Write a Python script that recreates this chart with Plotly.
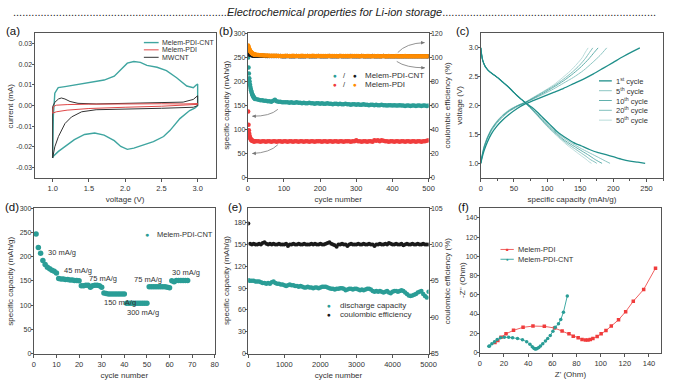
import plotly.graph_objects as go

W, H = 674, 384
FONT = "Arial, 'Liberation Sans', sans-serif"

# ---------------- (a) cyclic voltammetry ----------------
cv_cnt_v = [1.0, 1.01, 1.03, 1.077, 1.17, 1.35, 1.53, 1.71, 1.85, 1.94, 2.03, 2.12, 2.21, 2.30, 2.44, 2.57, 2.71, 2.85, 2.94, 2.98, 3.0,
            3.0, 2.96, 2.89, 2.755, 2.62, 2.53, 2.39, 2.26, 2.12, 2.03, 1.94, 1.85, 1.71, 1.58, 1.44, 1.30, 1.17, 1.08, 1.01, 1.0]
cv_cnt_i = [-0.0254, -0.005, 0.006, 0.0087, 0.0092, 0.0103, 0.0116, 0.0124, 0.0143, 0.0175, 0.0206, 0.0214, 0.0210, 0.0195, 0.0186, 0.0170, 0.0135, 0.0095, 0.0087, 0.0100, 0.0105,
            0.0, -0.0012, -0.0024, -0.0063, -0.012, -0.015, -0.0175, -0.019, -0.0206, -0.0212, -0.0198, -0.017, -0.0143, -0.0133, -0.0140, -0.0165, -0.0198, -0.0222, -0.0245, -0.0254]
cv_mw_v = [1.0, 1.0, 1.03, 1.08, 1.12, 1.17, 1.24, 1.35, 1.6, 2.0, 2.5, 2.8, 2.94, 2.98, 3.0,
           3.0, 2.94, 2.5, 2.0, 1.6, 1.4, 1.26, 1.17, 1.08, 1.03, 1.01, 1.0]
cv_mw_i = [-0.0254, -0.0005, 0.0016, 0.0032, 0.0037, 0.0032, 0.002, 0.0011, 0.0008, 0.001, 0.0013, 0.0017, 0.003, 0.0043, 0.0048,
           0.0, -0.0008, -0.0013, -0.0016, -0.002, -0.003, -0.0055, -0.0087, -0.015, -0.02, -0.023, -0.0254]
cv_pdi_v = [1.0, 1.01, 1.05, 1.2, 1.5, 2.0, 2.5, 2.8, 3.0,
            3.0, 2.8, 2.5, 2.0, 1.5, 1.2, 1.05, 1.0]
cv_pdi_i = [-0.0037, -0.0005, 0.0002, 0.0005, 0.0007, 0.0009, 0.0009, 0.0008, 0.001,
            0.0006, 0.0002, -0.0003, -0.0008, -0.0014, -0.0022, -0.003, -0.0037]
a_yticks = [-0.03, -0.02, -0.01, 0.0, 0.01, 0.02, 0.03]
a_yticktext = ["-0.03", "-0.02", "-0.01", "0.00", "0.01", "0.02", "0.03"]

# ---------------- (b) cycling at 30 mA/g ----------------
cyc_b = list(range(1, 21)) + list(range(25, 501, 5))
cap_cnt_b = [250, 229, 217, 207, 200, 194, 189, 185, 182, 179, 176, 174, 172, 171, 169, 168, 167, 166, 165, 164,
             163, 162, 161, 161, 160, 160, 159, 159, 158, 160, 162, 159, 158, 158, 157, 157,
             157, 157, 156, 157, 156, 156, 157, 156, 156, 155, 156, 155, 155, 156, 155, 155, 154, 155, 155, 154,
             155, 154, 154, 155, 154, 154, 153, 154, 154, 153, 154, 153, 153, 154, 153, 153, 152, 153, 153, 152,
             153, 152, 152, 153, 152, 152, 151, 152, 152, 151, 152, 151, 151, 152, 151, 151, 150, 151, 151, 150,
             151, 150, 150, 151, 150, 150, 149, 150, 150, 149, 150, 150, 149, 150, 150, 149, 150, 150, 149, 150]
cap_pdi_b = [138, 110, 99, 92, 87, 84, 82, 80, 79, 78, 78, 77, 77, 77, 76, 76, 76, 76, 76, 76,
             76, 76, 75, 76, 76, 75, 76, 76, 75, 76, 76, 75, 76, 76, 75, 76,
             76, 75, 76, 76, 75, 76, 76, 75, 76, 76, 75, 76, 76, 75, 76, 76, 75, 76, 76, 76,
             75, 76, 76, 75, 76, 76, 75, 76, 76, 75, 76, 76, 75, 76, 76, 76, 75, 76, 76, 78,
             76, 76, 75, 76, 76, 75, 76, 76, 75, 78, 77, 78, 76, 78, 77, 76, 76, 75, 76, 76,
             75, 76, 76, 75, 76, 76, 75, 76, 76, 75, 76, 76, 75, 76, 76, 75, 76, 76, 77, 78]
ce_cnt_b = [104.5, 104.0, 103.5, 103.1, 102.8, 102.6, 102.4, 102.3, 102.2, 102.1, 102.0, 101.9, 101.9, 101.8, 101.8, 101.7, 101.7, 101.6, 101.6, 101.6,
            101.5, 101.5, 101.4, 101.4, 101.4, 101.3, 101.3, 101.3, 101.3, 101.2, 101.2, 101.2, 101.2, 101.2, 101.1, 101.1,
            101.1, 101.2, 101.1, 101.1, 101.0, 101.1, 101.2, 101.1, 101.1, 101.0, 101.1, 101.1, 101.2, 101.1, 101.1, 101.0, 101.1, 101.1, 101.2, 101.1,
            101.1, 101.0, 101.1, 101.1, 101.2, 101.1, 101.1, 101.0, 101.1, 101.1, 101.2, 101.1, 101.1, 101.0, 101.1, 101.1, 101.2, 101.1, 101.1, 101.0,
            101.1, 101.1, 101.2, 101.1, 101.1, 101.0, 101.1, 101.1, 101.2, 101.1, 101.1, 101.0, 101.1, 101.1, 101.2, 101.1, 101.1, 101.0, 101.1, 101.1,
            101.0, 101.1, 101.1, 101.0, 101.1, 101.0, 101.1, 101.1, 101.0, 101.1, 101.0, 101.1, 101.1, 101.0, 101.1, 101.0, 101.1, 101.0, 101.0, 101.1]
ce_pdi_b = [110.0, 109.0, 108.0, 107.1, 106.4, 105.8, 105.3, 104.8, 104.4, 104.1, 103.8, 103.5, 103.3, 103.1, 102.9, 102.8, 102.7, 102.6, 102.5, 102.4,
            102.2, 102.0, 101.9, 101.8, 101.7, 101.6, 101.6, 101.5, 101.5, 101.4, 101.4, 101.4, 101.3, 101.3, 101.3, 101.3,
            101.4, 101.3, 101.2, 101.3, 101.4, 101.3, 101.2, 101.3, 101.3, 101.4, 101.2, 101.3, 101.3, 101.2, 101.3, 101.4, 101.3, 101.2, 101.3, 101.3,
            101.2, 101.3, 101.3, 101.2, 101.3, 101.2, 101.3, 101.3, 101.2, 101.1, 101.3, 101.2, 101.2, 101.3, 101.2, 101.2, 101.1, 101.2, 101.3, 101.2,
            101.2, 101.1, 101.2, 101.2, 101.1, 101.2, 101.2, 101.1, 101.0, 101.2, 101.1, 101.2, 101.1, 101.1, 101.2, 101.1, 101.1, 101.2, 101.1, 101.1,
            101.1, 101.2, 101.1, 101.0, 101.1, 101.1, 101.2, 101.1, 101.0, 101.1, 101.1, 101.0, 101.1, 101.1, 101.0, 101.1, 101.1, 101.0, 101.1, 101.0]

# ---------------- (c) charge / discharge profiles ----------------
c_cycles = ["1<sup>st</sup> cycle", "5<sup>th</sup> cycle", "10<sup>th</sup> cycle", "20<sup>th</sup> cycle", "50<sup>th</sup> cycle"]
chg_cap_1 = [0, 2, 5, 10, 16, 24, 33, 43, 55, 67, 80, 95, 110, 125, 140, 155, 170, 185, 200, 215, 228, 240]
chg_v_1 = [1.0, 1.1, 1.22, 1.37, 1.51, 1.64, 1.75, 1.85, 1.95, 2.03, 2.09, 2.16, 2.23, 2.3, 2.38, 2.46, 2.55, 2.65, 2.75, 2.85, 2.93, 3.0]
chg_cap_5 = [0, 2, 5, 10, 16, 24, 33, 43, 55, 67, 80, 95, 110, 125, 140, 155, 168, 180, 190]
chg_v_5 = [1.0, 1.12, 1.26, 1.42, 1.56, 1.69, 1.8, 1.9, 1.98, 2.05, 2.12, 2.2, 2.29, 2.39, 2.49, 2.61, 2.74, 2.87, 3.0]
chg_cap_10 = [0, 2, 5, 10, 16, 24, 33, 43, 55, 67, 80, 95, 110, 125, 140, 152, 163, 171, 177]
chg_v_10 = [1.0, 1.13, 1.28, 1.44, 1.58, 1.71, 1.82, 1.91, 1.99, 2.05, 2.13, 2.22, 2.32, 2.43, 2.56, 2.68, 2.81, 2.92, 3.0]
chg_cap_20 = [0, 2, 5, 10, 16, 24, 33, 43, 55, 67, 80, 95, 110, 125, 138, 149, 158, 164, 169]
chg_v_20 = [1.0, 1.14, 1.29, 1.45, 1.59, 1.72, 1.83, 1.92, 2.0, 2.06, 2.14, 2.24, 2.34, 2.46, 2.58, 2.7, 2.82, 2.92, 3.0]
chg_cap_50 = [0, 2, 5, 10, 16, 24, 33, 43, 55, 67, 80, 95, 110, 123, 135, 145, 153, 158, 162]
chg_v_50 = [1.0, 1.15, 1.3, 1.46, 1.6, 1.73, 1.84, 1.93, 2.0, 2.06, 2.15, 2.25, 2.36, 2.48, 2.6, 2.72, 2.83, 2.93, 3.0]
dis_cap_1 = [0, 1, 3, 7, 13, 20, 26, 33, 40, 48, 55, 62, 68, 77, 85, 93, 100, 108, 115, 122, 130, 140, 152, 164, 176, 189, 201, 213, 225, 237, 248]
dis_v_1 = [3.0, 2.9, 2.78, 2.67, 2.59, 2.53, 2.48, 2.41, 2.34, 2.25, 2.17, 2.1, 2.045, 1.97, 1.89, 1.8, 1.72, 1.63, 1.55, 1.49, 1.43, 1.36, 1.3, 1.24, 1.19, 1.15, 1.11, 1.07, 1.04, 1.02, 1.0]
dis_cap_5 = [0, 1, 3, 7, 13, 20, 26, 33, 40, 48, 55, 62, 68, 76, 84, 92, 100, 108, 116, 124, 133, 143, 154, 166, 178, 188, 195]
dis_v_5 = [3.0, 2.9, 2.78, 2.67, 2.59, 2.53, 2.48, 2.41, 2.34, 2.25, 2.17, 2.1, 2.04, 1.96, 1.87, 1.78, 1.69, 1.6, 1.52, 1.45, 1.38, 1.31, 1.24, 1.17, 1.1, 1.04, 1.0]
dis_cap_10 = [0, 1, 3, 7, 13, 20, 26, 33, 40, 48, 55, 62, 68, 76, 84, 92, 100, 108, 116, 124, 133, 143, 153, 163, 172, 178, 183]
dis_v_10 = [3.0, 2.9, 2.78, 2.67, 2.59, 2.53, 2.48, 2.41, 2.34, 2.25, 2.17, 2.1, 2.04, 1.95, 1.86, 1.76, 1.67, 1.58, 1.5, 1.42, 1.35, 1.28, 1.21, 1.14, 1.07, 1.03, 1.0]
dis_cap_20 = [0, 1, 3, 7, 13, 20, 26, 33, 40, 48, 55, 62, 68, 76, 84, 92, 100, 108, 116, 124, 132, 141, 150, 159, 166, 171, 175]
dis_v_20 = [3.0, 2.9, 2.78, 2.67, 2.59, 2.53, 2.48, 2.41, 2.34, 2.25, 2.17, 2.1, 2.04, 1.95, 1.85, 1.75, 1.65, 1.56, 1.48, 1.4, 1.33, 1.26, 1.19, 1.12, 1.06, 1.03, 1.0]
dis_cap_50 = [0, 1, 3, 7, 13, 20, 26, 33, 40, 48, 55, 62, 68, 76, 84, 92, 100, 108, 116, 123, 130, 138, 146, 153, 159, 163, 167]
dis_v_50 = [3.0, 2.9, 2.78, 2.67, 2.59, 2.53, 2.48, 2.41, 2.34, 2.25, 2.17, 2.1, 2.04, 1.94, 1.84, 1.74, 1.64, 1.55, 1.46, 1.39, 1.32, 1.25, 1.18, 1.12, 1.07, 1.03, 1.0]

# ---------------- (d) rate capability ----------------
cyc_d = list(range(1, 69))
cap_d = [247, 219, 207, 192, 184, 178, 175, 172, 170, 166,
         155, 154, 154, 153, 153, 152, 152, 151, 151, 150,
         140, 140, 141, 141, 137, 140, 141, 141, 140, 137,
         125, 124, 123, 123, 123, 123, 123, 123, 123, 123,
         104, 104, 104, 104, 104, 104, 104, 104, 104, 104,
         138, 138, 138, 138, 138, 138, 138, 138, 137, 136,
         150, 148, 151, 151, 151, 151, 151, 151]
rate_labels = ["30 mA/g", "45 mA/g", "75 mA/g", "150 mA/g", "300 mA/g", "75 mA/g", "30 mA/g"]
rate_label_x = [5.5, 12.5, 23.4, 30.3, 40.3, 43.4, 60.4]
rate_label_y = [209, 172, 154, 105, 85, 152, 168]

# ---------------- (e) long cycling ----------------
cyc_e = [1] + list(range(50, 5001, 50))
cap_e = [101, 100, 100, 100, 99, 99, 99, 98, 97, 97,
         96, 97, 96, 98, 99, 97, 96, 96, 95, 95,
         94, 93, 94, 95, 94, 94, 93, 93, 92, 93,
         92, 91, 91, 92, 91, 91, 90, 91, 91, 90,
         91, 92, 92, 92, 91, 90, 89, 89, 88, 89,
         89, 90, 90, 89, 87, 88, 89, 89, 88, 89,
         89, 88, 87, 88, 87, 88, 89, 89, 88, 86,
         85, 86, 85, 86, 85, 84, 85, 86, 84, 83,
         85, 86, 86, 85, 86, 87, 86, 84, 82, 80,
         79, 80, 81, 82, 84, 85, 86, 82, 79, 77,
         85]
ce_e = [102.9, 100.1, 100.0, 100.1, 100.0, 100.0, 100.1, 100.0, 100.2, 100.3,
        100.1, 100.0, 100.1, 100.0, 100.1, 100.0, 100.0, 100.1, 100.0, 100.0,
        100.0, 100.1, 99.8, 100.0, 100.0, 100.1, 100.0, 100.0, 100.1, 100.0,
        100.0, 100.1, 100.0, 100.0, 100.0, 100.1, 100.0, 100.1, 100.0, 100.0,
        100.1, 100.0, 100.0, 100.1, 100.2, 100.3, 100.1, 100.0, 99.9, 99.7,
        100.0, 100.0, 100.1, 100.0, 100.0, 99.8, 100.0, 100.1, 100.0, 100.0,
        100.0, 100.1, 100.0, 100.0, 100.1, 100.0, 100.0, 100.1, 100.0, 100.0,
        99.8, 100.0, 100.0, 100.1, 100.0, 100.0, 100.1, 100.0, 100.2, 100.1,
        100.0, 100.0, 100.1, 100.0, 100.0, 100.1, 99.9, 100.0, 100.1, 100.0,
        100.0, 100.1, 100.0, 100.0, 100.1, 100.0, 100.0, 100.1, 100.0, 100.0,
        100.0]

# ---------------- (f) Nyquist plots ----------------
zre_pdi = [12.5, 14.9, 17.6, 21.7, 27.9, 35.8, 44, 53.4, 61.9, 68.1, 73.8, 77.3, 81.4, 84.6, 87.4, 89.5, 91.4, 93.6, 97.1, 100.4, 104.4, 108.8, 114.8, 120.7, 127, 135.6, 145.4]
zim_pdi = [10.5, 12.6, 16, 19.4, 23.1, 26.2, 27.5, 27.2, 25.5, 22.4, 19.4, 17, 15.3, 13.6, 12.9, 12.9, 13.6, 14.6, 16.6, 19.4, 22.8, 27.5, 34, 42.5, 53.3, 65.6, 87.7]
zre_cnt = [7.5, 8.1, 10, 12.2, 14.4, 17.1, 20.3, 23.9, 27.1, 31.2, 35.3, 38.8, 41.5, 43.4, 44.8, 45.5, 46.1, 46.8, 47.5, 48.8, 50.2, 52.1, 54.3, 56.2, 58.3, 60.5, 62.4, 65.1, 67, 69.2, 72.4]
zim_cnt = [6.5, 6.8, 9.2, 11.2, 13.6, 15.3, 16, 16, 15.3, 14.6, 13.3, 11.2, 8.5, 6.1, 4.4, 3.9, 3.7, 3.8, 4.1, 5.1, 6.8, 9.2, 11.9, 14.6, 17.7, 22.1, 26.2, 29.9, 34.3, 41.8, 58.8]

# ---------------- colours ----------------
TEAL = "#2a9d96"
TEAL_A = "#3fa5a0"
TEAL_C = "#1f8f8a"
RED = "#f03c3c"
ORANGE = "#ff8c00"
BLACK = "#1a1a1a"
AXC = "#555555"
TXT = "#333333"


def px(x):
    return x / W


def py(y):
    return 1 - y / H


def dx(a, b):
    return [a / W, b / W]


def dy(top, bottom):
    return [1 - bottom / H, 1 - top / H]


fig = go.Figure()

# (a)
fig.add_trace(go.Scatter(x=cv_cnt_v, y=cv_cnt_i, mode="lines", line=dict(color=TEAL_A, width=1.4), xaxis="x", yaxis="y", showlegend=False))
fig.add_trace(go.Scatter(x=cv_mw_v, y=cv_mw_i, mode="lines", line=dict(color="#333333", width=1), xaxis="x", yaxis="y", showlegend=False))
fig.add_trace(go.Scatter(x=cv_pdi_v, y=cv_pdi_i, mode="lines", line=dict(color="#e04848", width=1), xaxis="x", yaxis="y", showlegend=False))

# (b)
fig.add_trace(go.Scatter(x=cyc_b, y=ce_cnt_b, mode="markers", marker=dict(color=BLACK, size=4.5), xaxis="x2", yaxis="y3", showlegend=False))
fig.add_trace(go.Scatter(x=cyc_b, y=ce_pdi_b, mode="markers", marker=dict(color=ORANGE, size=4.5), xaxis="x2", yaxis="y3", showlegend=False))
fig.add_trace(go.Scatter(x=cyc_b, y=cap_cnt_b, mode="markers", marker=dict(color=TEAL, size=4.5), xaxis="x2", yaxis="y2", showlegend=False))
fig.add_trace(go.Scatter(x=cyc_b, y=cap_pdi_b, mode="markers", marker=dict(color=RED, size=4.5), xaxis="x2", yaxis="y2", showlegend=False))

# (c)
c_data = [(chg_cap_1, chg_v_1, dis_cap_1, dis_v_1, 1.0, 1.3),
          (chg_cap_5, chg_v_5, dis_cap_5, dis_v_5, 0.5, 1.0),
          (chg_cap_10, chg_v_10, dis_cap_10, dis_v_10, 0.7, 1.0),
          (chg_cap_20, chg_v_20, dis_cap_20, dis_v_20, 0.55, 1.0),
          (chg_cap_50, chg_v_50, dis_cap_50, dis_v_50, 0.3, 1.0)]
for cc, cv, dc, dv, op, lw in c_data:
    fig.add_trace(go.Scatter(x=cc, y=cv, mode="lines", line=dict(color=TEAL_C, width=lw, shape="spline", smoothing=0.6), opacity=op, xaxis="x3", yaxis="y4", showlegend=False))
    fig.add_trace(go.Scatter(x=dc, y=dv, mode="lines", line=dict(color=TEAL_C, width=lw, shape="spline", smoothing=0.6), opacity=op, xaxis="x3", yaxis="y4", showlegend=False))

# (d)
fig.add_trace(go.Scatter(x=cyc_d, y=cap_d, mode="markers", marker=dict(color=TEAL, size=5.5), xaxis="x4", yaxis="y5", showlegend=False))

# (e)
fig.add_trace(go.Scatter(x=cyc_e, y=ce_e, mode="markers", marker=dict(color=BLACK, size=4), xaxis="x5", yaxis="y7", showlegend=False))
fig.add_trace(go.Scatter(x=cyc_e, y=cap_e, mode="markers", marker=dict(color=TEAL, size=4.5), xaxis="x5", yaxis="y6", showlegend=False))

# (f)
fig.add_trace(go.Scatter(x=zre_pdi, y=zim_pdi, mode="lines+markers", line=dict(color="#f06060", width=1), marker=dict(color=RED, size=3.5, symbol="square"), xaxis="x6", yaxis="y8", showlegend=False))
fig.add_trace(go.Scatter(x=zre_cnt, y=zim_cnt, mode="lines+markers", line=dict(color="#40aaa4", width=1), marker=dict(color=TEAL, size=3.5), xaxis="x6", yaxis="y8", showlegend=False))


def ax(domain, rng, title, anchor, dtick=None, standoff=4, tsize=8, **kw):
    d = dict(domain=domain, range=rng, anchor=anchor,
             showline=True, linecolor=AXC, linewidth=1, mirror=True,
             ticks="outside", ticklen=3, tickwidth=1, tickcolor=AXC,
             showgrid=False, zeroline=False,
             tickfont=dict(size=7.5, color=TXT, family=FONT),
             title=dict(text=title, font=dict(size=tsize, color=TXT, family=FONT), standoff=standoff))
    if dtick is not None:
        d["dtick"] = dtick
    d.update(kw)
    return d


YT = dict(ticklen=2, ticklabelstandoff=-2, tickfont=dict(size=7, color=TXT, family=FONT))

layout = dict(
    width=W, height=H, margin=dict(l=0, r=0, t=0, b=0),
    paper_bgcolor="white", plot_bgcolor="white",
    font=dict(family=FONT, color=TXT),
    showlegend=False,
    # (a)
    xaxis=ax(dx(33, 217), [0.75, 3.25], "voltage (V)", "y", tick0=1.0, dtick=0.5, tickformat=".1f"),
    yaxis=ax(dy(30, 177), [-0.035, 0.035], "", "x", tickvals=a_yticks, ticktext=a_yticktext, **YT),
    # (b)
    xaxis2=ax(dx(249.5, 433), [0, 500], "cycle number", "y2", dtick=100),
    yaxis2=ax(dy(30, 177), [0, 300], "", "x2", dtick=50, **YT),
    yaxis3=ax(dy(30, 177), [0, 120], "", "x2", dtick=20, overlaying="y2", side="right", **YT),
    # (c)
    xaxis3=ax(dx(486, 671), [0, 275], "specific capacity (mAh/g)", "y4", dtick=50,
              minor=dict(dtick=25, ticks="outside", ticklen=2, tickcolor=AXC)),
    yaxis4=ax(dy(30, 177), [0.75, 3.25], "", "x3", tick0=1.0, dtick=0.5, tickformat=".1f", **YT),
    # (d)
    xaxis4=ax(dx(32.3, 216), [0, 80], "cycle number", "y5", dtick=10),
    yaxis5=ax(dy(208, 356), [0, 300], "", "x4", dtick=50, **YT),
    # (e)
    xaxis5=ax(dx(250, 433), [0, 5000], "cycle number", "y6", dtick=1000),
    yaxis6=ax(dy(208, 356), [0, 200], "", "x5", tickvals=[0, 30, 60, 90, 120, 150, 180], **YT),
    yaxis7=ax(dy(208, 356), [85, 105], "", "x5", dtick=5, overlaying="y6", side="right", **YT),
    # (f)
    xaxis6=ax(dx(485, 669), [0, 150], "Z' (Ohm)", "y8", dtick=20),
    yaxis8=ax(dy(208, 355), [0, 150], "", "x6", dtick=20, **YT),
)
fig.update_layout(**layout)

ann = []
shapes = []


def text(xp, yp, s, size=8.5, anchor="left", color=TXT, angle=0):
    ann.append(dict(x=px(xp), y=py(yp), xref="paper", yref="paper", text=s, showarrow=False,
                    xanchor=anchor, yanchor="middle", textangle=angle,
                    font=dict(size=size, color=color, family=FONT)))


def legline(x0, x1, yp, color, width=1.3, opacity=1.0):
    shapes.append(dict(type="line", xref="paper", yref="paper", x0=px(x0), x1=px(x1), y0=py(yp), y1=py(yp),
                       line=dict(color=color, width=width), opacity=opacity))


# title
ann.append(dict(x=0.5, y=py(8), xref="paper", yref="paper", showarrow=False, xanchor="center", yanchor="middle",
                text="." * 70 + "<i>Electrochemical properties for Li-ion storage</i>" + "." * 70,
                font=dict(size=11, color="#222222", family=FONT)))

# y-axis titles
for s, xp, yp in [("current (mA)", 9, 103.5),
                  ("specific capacity (mAh/g)", 228.5, 103.5),
                  ("coulombic efficiency (%)", 452.5, 103.5),
                  ("voltage (V)", 464, 103.5),
                  ("specific capacity (mAh/g)", 9, 282),
                  ("specific capacity (mAh/g)", 228.5, 282),
                  ("coulombic efficiency (%)", 453, 282),
                  ("-Z'' (Ohm)", 467.5, 281.5)]:
    text(xp, yp, s, size=8, anchor="center", angle=-90)

# panel labels
for lab, xp, yp in [("(a)", 2, 28), ("(b)", 218, 28), ("(c)", 459, 28), ("(d)", 1, 207), ("(e)", 227, 207), ("(f)", 461, 207)]:
    text(xp, yp, lab, size=11.5, color="#111111")

# legend (a)
for name, col, yp, lw in [("Melem-PDI-CNT", TEAL_A, 39.3, 1.4), ("Melem-PDI", "#e04848", 46.7, 1.0), ("MWCNT", "#333333", 54.3, 1.0)]:
    legline(144, 159, yp, col, lw)
    text(160.5, yp, name, size=7)

# legend (b)
for col1, col2, name, yp in [(TEAL, BLACK, "Melem-PDI-CNT", 73), (RED, ORANGE, "Melem-PDI", 82)]:
    text(338, yp, "●", size=6.5, anchor="center", color=col1)
    text(348, yp, "/", size=7.5, anchor="center")
    text(358, yp, "●", size=6.5, anchor="center", color=col2)
    text(366, yp, name, size=8)

# curved arrows (b)
arrows = [((401.7, 49.5), (410, 40), (429, 39.3)),
          ((400.7, 58.5), (410, 65), (429.3, 65)),
          ((280, 107.3), (272, 114.5), (254, 114.3)),
          ((280, 143.3), (272, 151.5), (254, 152.3))]
for (sx, sy), (cx, cy), (ex, ey) in arrows:
    shapes.append(dict(type="path", xref="paper", yref="paper",
                       path=f"M {px(sx)},{py(sy)} Q {px(cx)},{py(cy)} {px(ex)},{py(ey)}",
                       line=dict(color="#777777", width=0.8)))
    vx, vy = cx - ex, cy - ey
    n = (vx * vx + vy * vy) ** 0.5
    ann.append(dict(x=px(ex), y=py(ey), xref="paper", yref="paper", text="", showarrow=True,
                    ax=vx / n * 5, ay=vy / n * 5, arrowhead=2, arrowsize=0.9, arrowwidth=0.8, arrowcolor="#777777"))

# legend (c)
for i, (name, op, lw) in enumerate([(c_cycles[0], 1.0, 1.3), (c_cycles[1], 0.5, 1.0), (c_cycles[2], 0.7, 1.0), (c_cycles[3], 0.55, 1.0), (c_cycles[4], 0.3, 1.0)]):
    yp = 78.3 + 10 * i
    legline(606, 619, yp, TEAL_C, lw, op)
    text(621.5, yp, name, size=7.5)

# rate labels (d) in data coordinates
for s, xv, yv in zip(rate_labels, rate_label_x, rate_label_y):
    ann.append(dict(x=xv, y=yv, xref="x4", yref="y5", text=s, showarrow=False, xanchor="left", yanchor="middle",
                    font=dict(size=7.5, color=TXT, family=FONT)))
# legend (d)
text(147, 234.7, "●", size=7, anchor="center", color=TEAL)
text(155, 234.7, "Melem-PDI-CNT", size=7.5)

# legend (e)
text(332, 306.7, "●", size=6.5, anchor="center", color=TEAL)
text(341, 306.7, "discharge capacity", size=8)
text(332, 316.7, "●", size=6.5, anchor="center", color=BLACK)
text(341, 316.7, "coulombic efficiency", size=8)

# legend (f)
for name, lc, mc, sym, yp in [("Melem-PDI", "#f06060", RED, "■", 250), ("Melem-PDI-CNT", "#40aaa4", TEAL, "●", 260)]:
    legline(506, 519.5, yp, lc, 1.0)
    text(512.7, yp, sym, size=4.5, anchor="center", color=mc)
    text(521.7, yp, name, size=7.5)

fig.update_layout(annotations=ann, shapes=shapes)
fig.write_html("out.html", config={"displayModeBar": False})
